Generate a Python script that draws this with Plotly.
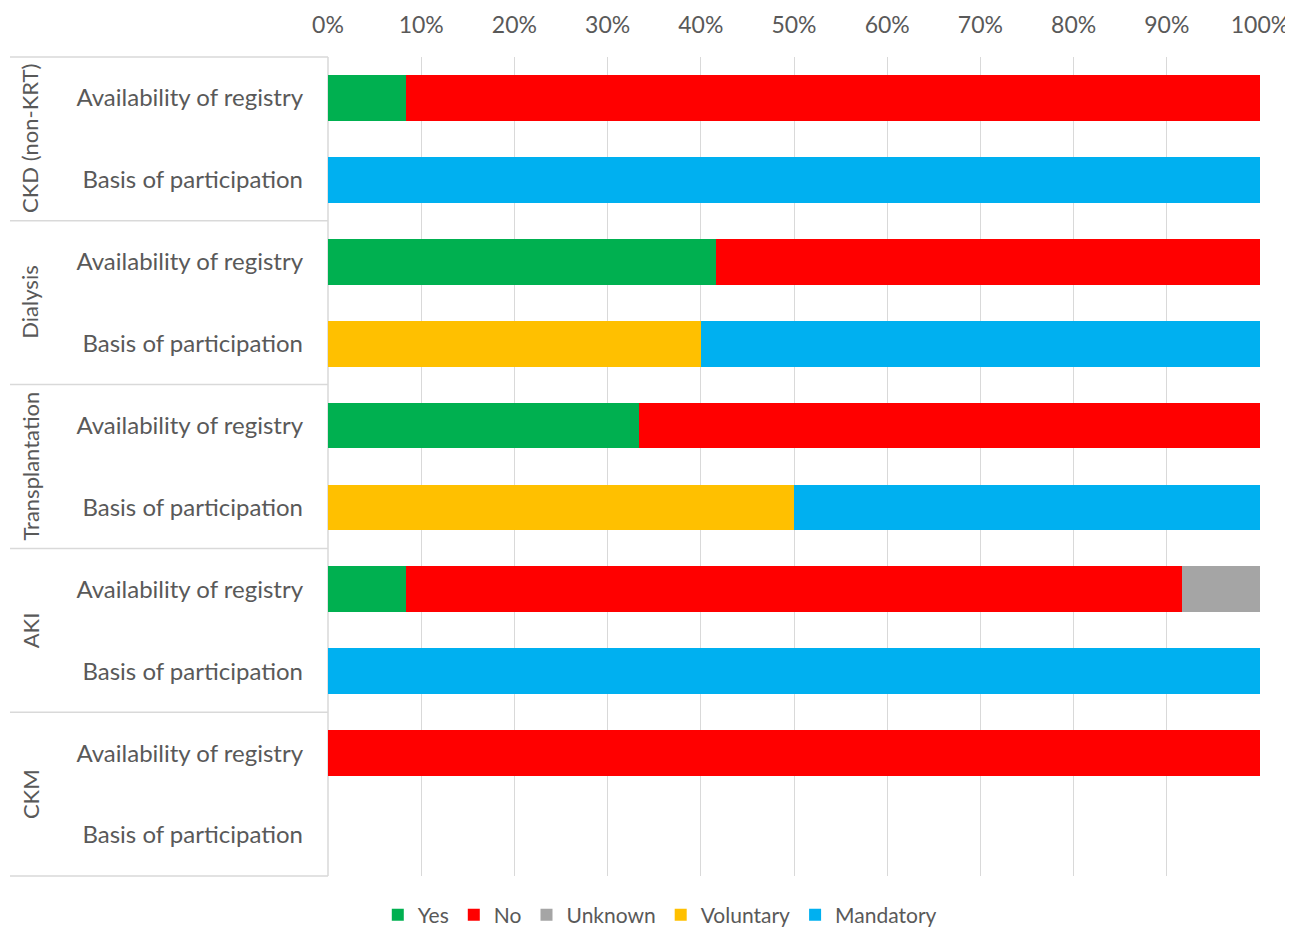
import plotly.graph_objects as go

groups = ["CKD (non-KRT)", "Dialysis", "Transplantation", "AKI", "CKM"]
row_labels = ["Availability of registry", "Basis of participation"] * 5
rows = list(range(10))

yes = [8.33, 0, 41.67, 0, 33.33, 0, 8.33, 0, 0, 0]
no = [91.67, 0, 58.33, 0, 66.67, 0, 83.34, 0, 100, 0]
unknown = [0, 0, 0, 0, 0, 0, 8.33, 0, 0, 0]
voluntary = [0, 0, 0, 40, 0, 50, 0, 0, 0, 0]
mandatory = [0, 100, 0, 60, 0, 50, 0, 100, 0, 0]

series = [("Yes", yes, "#00B050"), ("No", no, "#FF0000"), ("Unknown", unknown, "#A5A5A5"),
          ("Voluntary", voluntary, "#FFC000"), ("Mandatory", mandatory, "#00B0F0")]

fig = go.Figure()
for name, vals, color in series:
    fig.add_trace(go.Bar(y=rows, x=vals, name=name, orientation="h",
                         marker=dict(color=color, line=dict(width=0)),
                         hovertemplate="%{x:.1f}%<extra>" + name + "</extra>"))

FONT = "Lato"
TXT = "#595959"
fig.update_layout(
    barmode="stack", bargap=0.44,
    width=1285, height=921,
    margin=dict(l=320, r=33, t=49, b=53, autoexpand=False),
    plot_bgcolor="white", paper_bgcolor="white",
    font=dict(family=FONT, size=24, color=TXT),
    legend=dict(orientation="h", x=0.356, xanchor="center", y=-0.0476, yanchor="middle",
                font=dict(size=21, color=TXT), traceorder="normal",
                itemwidth=30, itemsizing="constant"),
    showlegend=True,
)
fig.update_xaxes(range=[0, 100], side="top", tickvals=list(range(0, 101, 10)),
                 ticktext=[f"{v}%" for v in range(0, 101, 10)],
                 showgrid=True, gridcolor="#D9D9D9", gridwidth=1.3,
                 zeroline=False, showline=False, ticks="", ticklen=0,
                 automargin=False, ticklabelstandoff=18, ticklabeloverflow="allow",
                 tickfont=dict(size=23, color=TXT))
fig.update_yaxes(tickvals=rows, ticktext=row_labels,
                 range=[9.5, -0.5], autorange=False, showgrid=False, zeroline=False,
                 showline=False, ticks="", ticklabelstandoff=24, automargin=False,
                 tickfont=dict(size=24, color=TXT))

# table lines
line_color = "#D9D9D9"
for i in range(6):
    yy = 1 - i / 5
    fig.add_shape(type="line", xref="paper", yref="paper", x0=-318/932, x1=0, y0=yy, y1=yy,
                  line=dict(color=line_color, width=1.5), layer="above")
fig.add_shape(type="line", xref="paper", yref="paper", x0=0, x1=0, y0=0, y1=1,
              line=dict(color=line_color, width=1.5), layer="below")

for i, g in enumerate(groups):
    fig.add_annotation(text=g, xref="paper", yref="paper", x=-298/932, y=1 - (i + 0.5) / 5,
                       textangle=-90, showarrow=False, xanchor="center", yanchor="middle",
                       font=dict(size=22, color=TXT, family=FONT))

fig.write_html("out.html")
